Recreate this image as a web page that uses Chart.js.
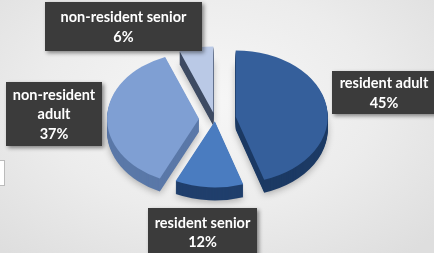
<!DOCTYPE html>
<html>
<head>
<meta charset="utf-8">
<script src="https://cdn.jsdelivr.net/npm/chart.js@4/dist/chart.umd.min.js"></script>
<style>
  html, body { margin: 0; padding: 0; }
  body {
    width: 434px; height: 253px; overflow: hidden; position: relative;
    background: radial-gradient(ellipse 70% 80% at 48% 40%, #f7f7f7 0%, #ececec 55%, #dedede 100%);
    font-family: Lato, "Open Sans", sans-serif;
  }
  #c { position: absolute; left: 0; top: 0; }
  .lbl {
    position: absolute; background: #3b3b3b; color: #fff; font-weight: bold;
    font-size: 14.5px; line-height: 19.5px; text-align: center;
    display: flex; align-items: center; justify-content: center;
    box-shadow: 2px 2px 4px rgba(0,0,0,0.45); box-sizing: border-box;
  }
  .edge { position: absolute; left: -2px; top: 160px; width: 5px; height: 24px; background: #fff; border: 1px solid #bbb; }
</style>
</head>
<body>
<canvas id="c" width="434" height="253"></canvas>
<div class="edge"></div>
<div id="labels"></div>
<script>
// ---- data ----
const categories = ['resident adult', 'resident senior', 'non-resident adult', 'non-resident senior'];
const shares = [45, 12, 37, 6];
const labelLines = [['resident adult'], ['resident senior'], ['non-resident', 'adult'], ['non-resident senior']];

// ---- styling ----
const topColors  = ['#355f9b', '#4a7cc0', '#7f9fd3', '#bac9e6'];
const sideColors = ['#1c3a64', '#203f6c', '#5a78a8', '#3e4b63'];
const explode = [21, 3, 16, 9];
const TILT = 0.72;
const DEPTH = 13;
const labelBoxes = [
  {left: 332, top: 71, width: 104, height: 43},
  {left: 148, top: 208, width: 109, height: 48},
  {left: 6, top: 82, width: 96, height: 64},
  {left: 45, top: 2, width: 157, height: 49}
];

const pie3d = {
  id: 'pie3d',
  beforeDatasetsDraw(chart) {
    const ctx = chart.ctx;
    const arcs = chart.getDatasetMeta(0).data;
    if (!arcs.length) return false;
    const cx = arcs[0].x, cy = arcs[0].y;
    ctx.save();
    ctx.translate(cx, cy);
    ctx.scale(1, TILT);
    ctx.translate(-cx, -cy);
    const drawArc = (arc, i, dy, color, shadow) => {
      const mid = (arc.startAngle + arc.endAngle) / 2;
      ctx.save();
      ctx.translate(Math.cos(mid) * explode[i], Math.sin(mid) * explode[i] + dy);
      if (shadow) {
        ctx.shadowColor = 'rgba(0,0,0,0.28)';
        ctx.shadowBlur = 7;
        ctx.shadowOffsetY = 2;
      }
      const o = arc.options;
      arc.options = Object.assign({}, o, {backgroundColor: color, borderColor: color, borderWidth: 0, offset: 0});
      arc.draw(ctx);
      arc.options = o;
      ctx.restore();
    };
    for (let d = DEPTH; d >= 1; d--) {
      arcs.forEach((arc, i) => drawArc(arc, i, d / TILT, sideColors[i], d === DEPTH));
    }
    arcs.forEach((arc, i) => drawArc(arc, i, 0, topColors[i], false));
    ctx.restore();
    return false;
  }
};

new Chart(document.getElementById('c'), {
  type: 'pie',
  data: {
    labels: categories,
    datasets: [{
      data: shares,
      backgroundColor: topColors,
      borderWidth: 0
    }]
  },
  options: {
    responsive: false,
    animation: false,
    devicePixelRatio: 1,
    radius: 92,
    layout: { padding: { left: 0, right: 4, top: 0, bottom: 15 } },
    plugins: { legend: { display: false }, tooltip: { enabled: false } },
    events: []
  },
  plugins: [pie3d]
});

const holder = document.getElementById('labels');
categories.forEach((cat, i) => {
  const d = document.createElement('div');
  d.className = 'lbl';
  const b = labelBoxes[i];
  Object.assign(d.style, {left: b.left + 'px', top: b.top + 'px', width: b.width + 'px', height: b.height + 'px'});
  d.innerHTML = '<div>' + labelLines[i].join('<br>') + '<br>' + shares[i] + '%</div>';
  holder.appendChild(d);
});
</script>
</body>
</html>
